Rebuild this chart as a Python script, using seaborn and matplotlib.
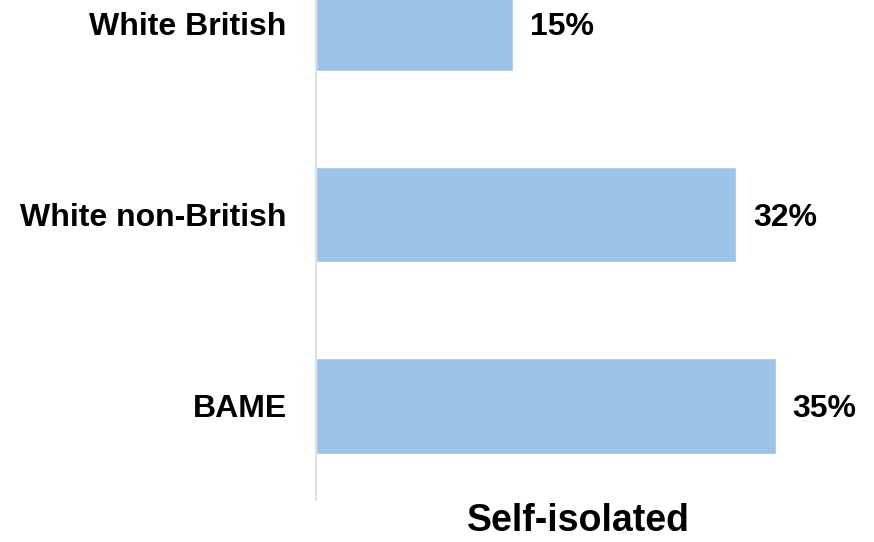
import matplotlib
matplotlib.use("Agg")
import matplotlib.pyplot as plt
import seaborn as sns
import pandas as pd

# Share of each group that self-isolated (%)
groups = ["White British", "White non-British", "BAME"]
self_isolated = [15, 32, 35]
value_labels = ["15%", "32%", "35%"]
axis_title = "Self-isolated"

sns.set_theme(style="white")
plt.rcParams["font.family"] = ["Liberation Sans", "DejaVu Sans"]

df = pd.DataFrame({"group": groups, "pct": self_isolated})

fig = plt.figure(figsize=(8.74, 5.42), dpi=100)
ax = fig.add_axes([316 / 874, 42 / 542, 525.6 / 874, 500 / 542])

sns.barplot(data=df, x="pct", y="group", orient="h", color="#9DC3E6",
            saturation=1, width=0.5, ax=ax)

ax.set_xlim(0, 40)
ax.set_ylim(2.493, -0.121)

for i, (v, lab) in enumerate(zip(self_isolated, value_labels)):
    ax.annotate(lab, xy=(v, i), xytext=(12, 0), textcoords="offset points",
                ha="left", va="center_baseline", fontsize=23,
                fontweight="bold", color="black")

ax.set_xticks([])
ax.set_ylabel("")
ax.set_xlabel(axis_title, fontsize=27, fontweight="bold", color="black",
              labelpad=2)
ax.tick_params(axis="y", length=0, pad=21)
for t in ax.get_yticklabels():
    t.set_fontsize(23)
    t.set_fontweight("bold")
    t.set_color("black")
    t.set_verticalalignment("center_baseline")

for side in ["top", "right", "bottom"]:
    ax.spines[side].set_visible(False)
ax.spines["left"].set_color("#D9D9D9")
ax.spines["left"].set_linewidth(1.2)

fig.savefig("out.png", dpi=100)
